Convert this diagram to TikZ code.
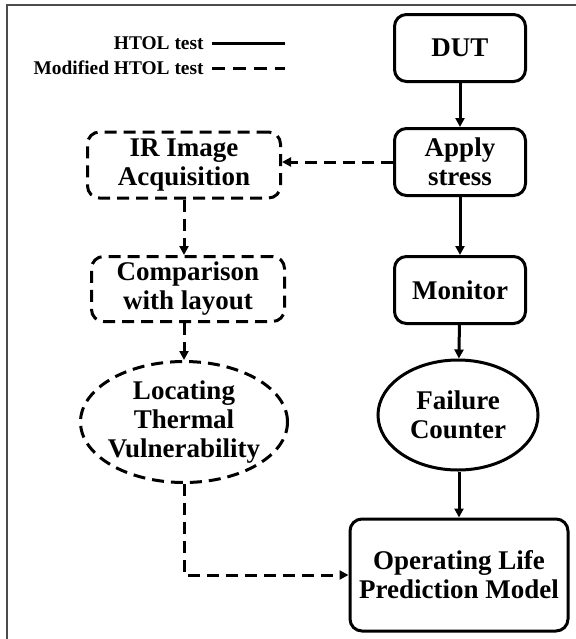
\documentclass[tikz,border=0pt]{standalone}
\usepackage{fontspec}
\setmainfont{Liberation Serif}
\usetikzlibrary{shapes.geometric,arrows.meta}

\begin{document}
\begin{tikzpicture}[
    x=0.5pt, y=-0.5pt,
    box/.style={rectangle, rounded corners=6pt, draw, line width=1.5pt, align=center, minimum width=65.5pt, minimum height=33.5pt, inner sep=1pt, font=\fontsize{13.5}{14.5}\selectfont\bfseries},
    dbox/.style={box, dash pattern=on 6pt off 3.5pt},
    oval/.style={ellipse, draw, line width=1.5pt, align=center, inner sep=0pt, font=\fontsize{13.5}{14.5}\selectfont\bfseries},
    doval/.style={oval, dash pattern=on 6pt off 3.5pt},
    legend/.style={anchor=east, inner sep=0pt, font=\fontsize{9.7}{11}\selectfont\bfseries},
    arrow/.style={-{Triangle[length=4.5pt,width=4.5pt]}, line width=1.5pt},
    darrow/.style={arrow, dash pattern=on 6pt off 3.5pt}
]
    \useasboundingbox (0,0) rectangle (576,639);
    \draw[gray!60!black, line width=0.6pt] (7,639) -- (7,5) -- (576,5);

    % Legend
    \node[legend] (htol) at (204,43) {HTOL test};
    \node[legend] (mhtol) at (204,68) {Modified HTOL test};
    \coordinate (htol_a) at (212,43);
    \coordinate (htol_b) at (285,43);
    \coordinate (mhtol_a) at (212,68);
    \coordinate (mhtol_b) at (285,68);
    \draw[line width=1.5pt] (htol_a) -- (htol_b);
    \draw[line width=1.5pt, dash pattern=on 6.5pt off 4pt] (mhtol_a) -- (mhtol_b);

    % HTOL test
    \node[box] (dut) at (460,48) {DUT};
    \node[box] (stress) at (460,162) {Apply\\stress};
    \node[box] (monitor) at (460,290) {Monitor};
    \node[oval, minimum width=80pt, minimum height=55pt] (failure) at (458,415) {Failure\\Counter};
    \node[box, minimum width=109pt, minimum height=56pt] (model) at (459,575) {Operating Life\\Prediction Model};

    % Modified HTOL test
    \node[dbox, minimum width=96.5pt, minimum height=33pt] (ir) at (184,165) {IR Image\\Acquisition};
    \node[dbox, minimum width=96.5pt, minimum height=32.5pt] (compare) at (188,289) {Comparison\\with layout};
    \node[doval, inner sep=-3pt, minimum width=103.5pt, minimum height=60.5pt] (locate) at (184,422) {Locating\\Thermal\\Vulnerability};

    % Arrows
    \draw[arrow] (dut) -- (stress);
    \draw[arrow] (stress) -- (monitor);
    \draw[arrow] (monitor) -- (failure);
    \draw[arrow] (failure.south -| model.north) -- (model.north);

    \draw[darrow] (stress.west) -- (stress.west -| ir.east);
    \draw[darrow] (ir.south) -- (ir.south |- compare.north);
    \draw[darrow] (compare.south -| locate.north) -- (locate.north);
    \draw[darrow] (locate.south) |- (model.west);

\end{tikzpicture}
\end{document}
